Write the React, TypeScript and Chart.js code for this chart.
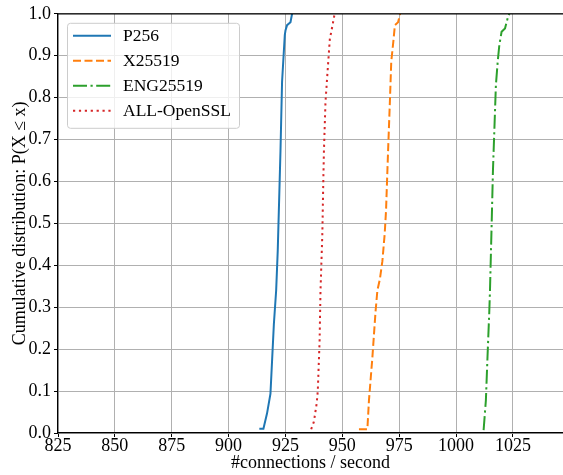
import React, { useEffect, useRef } from "react";
import { Chart, registerables } from "chart.js";

Chart.register(...registerables);

const seriesNames = ["P256", "X25519", "ENG25519", "ALL-OpenSSL"];

const p256X = [913.5, 915.3, 916.9, 918.4, 919.9, 920.9, 921.6, 922.4, 922.8, 923.5, 924.7, 925.0, 925.7, 927.2, 927.9];
const p256Y = [0.01, 0.01, 0.047, 0.094, 0.26, 0.34, 0.435, 0.593, 0.672, 0.838, 0.949, 0.96, 0.973, 0.98, 1.0];

const x25519X = [957.3, 961.0, 961.7, 963.2, 964.6, 965.4, 966.5, 967.6, 968.6, 969.2, 969.8, 970.1, 970.9, 971.5, 972.4, 973.1, 974.5, 975.4];
const x25519Y = [0.009, 0.009, 0.078, 0.18, 0.29, 0.34, 0.367, 0.41, 0.474, 0.53, 0.625, 0.672, 0.791, 0.886, 0.933, 0.973, 0.98, 1.0];

const eng25519X = [1012.1, 1013.1, 1013.8, 1014.6, 1014.9, 1015.6, 1016.2, 1016.5, 1017.5, 1018.3, 1019.0, 1020.0, 1021.5, 1022.7, 1023.4];
const eng25519Y = [0.007, 0.078, 0.18, 0.29, 0.34, 0.49, 0.625, 0.672, 0.83, 0.886, 0.925, 0.957, 0.965, 0.99, 1.0];

const opensslX = [936.3, 937.5, 938.7, 939.2, 940.0, 940.4, 941.2, 941.6, 941.9, 942.6, 943.6, 944.5, 945.7, 946.6];
const opensslY = [0.009, 0.027, 0.07, 0.1, 0.22, 0.34, 0.474, 0.593, 0.672, 0.791, 0.87, 0.94, 0.973, 1.0];

const xTitle = "#connections / second";
const yTitle = "Cumulative distribution: P(X \u2264 x)";

const FONT = "'Liberation Serif', 'DejaVu Serif', serif";
const FS = 18;

const colors = ["#1f77b4", "#ff7f0e", "#2ca02c", "#d62728"];
const dashes = [[], [8, 3.5], [14, 3.5, 2.2, 3.5], [2.2, 3.7]];

function pts(xs: number[], ys: number[]) {
  return xs.map((x, i) => ({ x, y: ys[i] }));
}

export default function App() {
  const ref = useRef<HTMLCanvasElement>(null);
  useEffect(() => {
    document.body.style.margin = "0";
    const ctx = ref.current!.getContext("2d")!;
    const series = [pts(p256X, p256Y), pts(x25519X, x25519Y), pts(eng25519X, eng25519Y), pts(opensslX, opensslY)];
    const legendPlugin = {
      id: "mplLegend",
      afterDraw(chart: any) {
        const c = chart.ctx;
        const a = chart.chartArea;
        c.save();
        c.strokeStyle = "#000";
        c.lineWidth = 1.2;
        c.beginPath();
        c.moveTo(a.left, a.top);
        c.lineTo(a.right, a.top);
        c.stroke();
        const bx = a.left + 9.5, by = a.top + 9.5, bw = 172, bh = 105, r = 3;
        c.beginPath();
        c.moveTo(bx + r, by);
        c.lineTo(bx + bw - r, by);
        c.arcTo(bx + bw, by, bx + bw, by + r, r);
        c.lineTo(bx + bw, by + bh - r);
        c.arcTo(bx + bw, by + bh, bx + bw - r, by + bh, r);
        c.lineTo(bx + r, by + bh);
        c.arcTo(bx, by + bh, bx, by + bh - r, r);
        c.lineTo(bx, by + r);
        c.arcTo(bx, by, bx + r, by, r);
        c.closePath();
        c.fillStyle = "rgba(255,255,255,0.8)";
        c.fill();
        c.strokeStyle = "#cccccc";
        c.lineWidth = 1;
        c.stroke();
        c.font = `17.5px ${FONT}`;
        c.textBaseline = "middle";
        c.textAlign = "left";
        for (let i = 0; i < seriesNames.length; i++) {
          const yy = a.top + 22 + i * 25;
          c.strokeStyle = colors[i];
          c.lineWidth = 2;
          c.setLineDash(dashes[i]);
          c.beginPath();
          c.moveTo(a.left + 15, yy);
          c.lineTo(a.left + 53, yy);
          c.stroke();
          c.setLineDash([]);
          c.fillStyle = "#000";
          c.fillText(seriesNames[i], a.left + 65, yy + 1);
        }
        c.restore();
      },
    };
    const chart = new Chart(ctx, {
      type: "line",
      data: {
        datasets: seriesNames.map((name, i) => ({
          label: name,
          data: series[i],
          borderColor: colors[i],
          backgroundColor: colors[i],
          borderWidth: 2,
          borderDash: dashes[i],
          pointRadius: 0,
          tension: 0,
          fill: false,
        })),
      },
      options: {
        animation: false,
        responsive: false,
        maintainAspectRatio: false,
        layout: { padding: { top: 12, right: 0, left: 9, bottom: 1 } },
        plugins: { legend: { display: false }, tooltip: { enabled: false } },
        scales: {
          x: {
            type: "linear",
            min: 825,
            max: 1047,
            afterFit(s: any) { s.height = 41; },
            ticks: {
              stepSize: 25,
              includeBounds: false,
              color: "#000",
              font: { family: FONT, size: FS },
              padding: -2,
              maxRotation: 0,
              autoSkip: false,
              callback: (v: any) => String(v),
            },
            grid: { color: "#b0b0b0", lineWidth: 1, tickLength: 4, tickColor: "#000" },
            border: { color: "#000", width: 1.2 },
            title: { display: true, text: xTitle, color: "#000", font: { family: FONT, size: FS }, padding: { top: 0, bottom: 0 } },
          },
          y: {
            type: "linear",
            min: 0,
            max: 1,
            afterFit(s: any) { s.width = 49; },
            ticks: {
              stepSize: 0.1,
              color: "#000",
              font: { family: FONT, size: FS },
              padding: 3,
              callback: (v: any) => Number(v).toFixed(1),
            },
            grid: { color: "#b0b0b0", lineWidth: 1, tickLength: 4, tickColor: "#000" },
            border: { color: "#000", width: 1.2 },
            title: { display: true, text: yTitle, color: "#000", font: { family: FONT, size: FS }, padding: { top: 0, bottom: 0 } },
          },
        },
      },
      plugins: [legendPlugin],
    } as any);
    return () => chart.destroy();
  }, []);
  return (
    <div style={{ width: 563, height: 475 }}>
      <canvas ref={ref} width={563} height={475} style={{ display: "block" }} />
    </div>
  );
}
